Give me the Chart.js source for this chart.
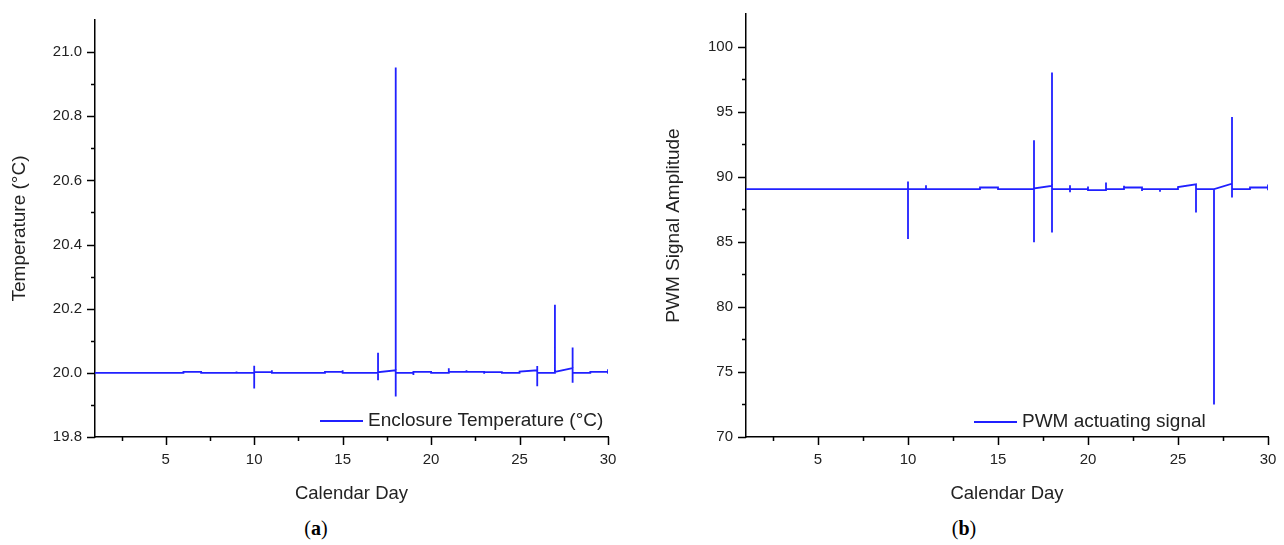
<!DOCTYPE html>
<html>
<head>
<meta charset="utf-8">
<script src="https://cdn.jsdelivr.net/npm/chart.js"></script>
<style>
  body { margin: 0; background: #fff; }
  #wrap { position: relative; width: 1284px; height: 545px; overflow: hidden; font-family: "Liberation Sans", Arial, sans-serif; }
  .panel { position: absolute; top: 0; height: 510px; }
  .legend { position: absolute; font-size: 19px; color: #222; white-space: nowrap; line-height: 24px; }
  .legend .swatch { display: inline-block; width: 43px; height: 2px; background: #2020ff; vertical-align: middle; margin-right: 5px; }
  .caption { position: absolute; top: 517px; font-family: "Liberation Serif", serif; font-size: 20px; color: #000; text-align: center; }
</style>
</head>
<body>
<div id="wrap">
  <div class="panel" style="left:0;width:640px"><canvas id="graficoTemp"></canvas></div>
  <div class="panel" style="left:640px;width:644px"><canvas id="graficoPwm"></canvas></div>
  <div class="legend" id="legendTemp" style="left:320px;top:408px"></div>
  <div class="legend" id="legendPwm" style="left:974px;top:409px"></div>
  <div class="caption" style="left:0;width:632px">(<b>a</b>)</div>
  <div class="caption" style="left:640px;width:648px">(<b>b</b>)</div>
</div>
<script>
// Dados (a): temperatura do gabinete
const tempDias = [1, 6, 6, 7, 7, 9, 9, 9, 10, 10, 10, 10, 11, 11, 11, 13, 13, 13, 14, 14, 15, 15, 15, 17, 17, 17, 17,
  18, 18, 18, 18, 19, 19, 19, 20, 20, 21, 21, 21, 22, 22, 22, 23, 23, 23, 24, 24, 24, 25, 25, 26, 26, 26, 26,
  27, 27, 27, 28, 28, 28, 28, 29, 29, 30, 30, 30];
const tempValores = [20.000, 20.000, 20.003, 20.003, 20.000, 20.000, 20.004, 20.000, 20.000, 20.022, 19.951, 20.002,
  20.002, 20.008, 20.000, 20.000, 20.003, 20.000, 20.000, 20.003, 20.003, 20.008, 20.000, 20.000, 20.063, 19.977, 20.002,
  20.008, 20.952, 19.926, 20.000, 20.000, 19.993, 20.003, 20.003, 20.000, 20.000, 20.014, 20.003, 20.003, 20.008, 20.003,
  20.003, 19.997, 20.002, 20.002, 19.997, 20.000, 20.000, 20.004, 20.008, 19.958, 20.021, 20.000,
  20.000, 20.212, 20.003, 20.015, 20.079, 19.969, 20.000, 20.000, 20.003, 20.003, 20.011, 19.997];

// Dados (b): sinal PWM
const pwmDias = [1, 10, 10, 10, 10, 11, 11, 11, 13, 13, 13, 14, 14, 15, 15, 17, 17, 17, 17, 18, 18, 18, 18,
  19, 19, 19, 19, 20, 20, 20, 21, 21, 21, 22, 22, 22, 23, 23, 23, 24, 24, 24, 25, 25, 26, 26, 26,
  27, 27, 27, 28, 28, 28, 28, 29, 29, 30, 30, 30];
const pwmValores = [89.05, 89.05, 89.63, 85.21, 89.05, 89.05, 89.35, 89.05, 89.05, 89.12, 89.05, 89.05, 89.17, 89.17, 89.05,
  89.05, 92.8, 84.96, 89.10, 89.30, 98.0, 85.72, 89.05,
  89.05, 89.35, 88.8, 89.05, 89.05, 89.25, 88.97, 88.97, 89.55, 89.05, 89.05, 89.30, 89.17, 89.17, 88.9, 89.05,
  89.05, 88.85, 89.05, 89.05, 89.2, 89.42, 87.25, 89.05,
  89.05, 72.5, 89.05, 89.47, 94.58, 88.4, 89.05, 89.05, 89.17, 89.17, 89.4, 88.95];

const corLinha = '#2020ff';
const fonte = '"Liberation Sans", Arial, sans-serif';
const corTexto = '#222';

function pontos(xs, ys) {
  return xs.map((x, i) => ({ x: x, y: ys[i] }));
}

function ehMultiplo(v, passo) {
  return Math.abs(v / passo - Math.round(v / passo)) < 1e-6;
}

// Desenha os ticks: maiores com 8px, menores com 4px
const ticksMenores = {
  id: 'ticksMenores',
  afterDraw(chart, args, opts) {
    const ctx = chart.ctx;
    const sx = chart.scales.x, sy = chart.scales.y;
    ctx.save();
    ctx.strokeStyle = '#000';
    ctx.lineWidth = 1.5;
    ctx.beginPath();
    sx.ticks.forEach(t => {
      const px = Math.round(sx.getPixelForValue(t.value)) + 0.5;
      const len = ehMultiplo(t.value, 5) ? 8 : 4;
      ctx.moveTo(px, sx.top);
      ctx.lineTo(px, sx.top + len);
    });
    sy.ticks.forEach(t => {
      const py = Math.round(sy.getPixelForValue(t.value)) + 0.5;
      const len = ehMultiplo(t.value, opts.passoMaior) ? 8 : 4;
      ctx.moveTo(sy.right, py);
      ctx.lineTo(sy.right - len, py);
    });
    ctx.stroke();
    ctx.restore();
  }
};

function criarGrafico(id, cfg) {
  const eixoX = {
    type: 'linear',
    min: 1, max: 30,
    afterBuildTicks: s => { s.ticks = s.ticks.filter(t => ehMultiplo(t.value, 2.5)); },
    afterFit: s => { s.height = 73; },
    ticks: {
      stepSize: 2.5, autoSkip: false, maxRotation: 0, padding: 6, color: corTexto,
      font: { family: fonte, size: 15 },
      callback: v => ehMultiplo(v, 5) ? String(v) : ''
    },
    grid: { drawOnChartArea: false, tickLength: 8, tickColor: 'transparent' },
    border: { color: '#000', width: 1.5 },
    title: { display: true, text: 'Calendar Day', color: corTexto, font: { family: fonte, size: 18.5 }, padding: { bottom: 5 } }
  };
  const eixoY = {
    min: cfg.yMin, max: cfg.yMax,
    afterBuildTicks: s => { s.ticks = s.ticks.filter(t => t.value < cfg.yMax - 1e-6); },
    afterFit: s => { s.width = cfg.larguraY; },
    ticks: {
      stepSize: cfg.passoMenor, autoSkip: false, padding: 5, color: corTexto,
      font: { family: fonte, size: 15 },
      callback: v => ehMultiplo(v, cfg.passoMaior) ? cfg.formato(v) : ''
    },
    grid: { drawOnChartArea: false, tickLength: 8, tickColor: 'transparent' },
    border: { color: '#000', width: 1.5 },
    title: { display: true, text: cfg.tituloY, color: corTexto, font: { family: fonte, size: 19 }, padding: { top: cfg.padTitulo } }
  };

  const grafico = new Chart(document.getElementById(id), {
    type: 'line',
    data: {
      datasets: [{
        label: cfg.rotulo,
        data: pontos(cfg.dias, cfg.valores),
        borderColor: corLinha,
        borderWidth: 1.8,
        pointRadius: 0,
        tension: 0
      }]
    },
    options: {
      responsive: true,
      maintainAspectRatio: false,
      animation: false,
      layout: { padding: cfg.padding },
      plugins: {
        legend: { display: false },
        tooltip: { enabled: false },
        ticksMenores: { passoMaior: cfg.passoMaior }
      },
      scales: { x: eixoX, y: eixoY }
    },
    plugins: [ticksMenores]
  });

  // Legenda em HTML dentro da área do gráfico
  document.getElementById(cfg.legenda).innerHTML =
    '<span class="swatch"></span>' + grafico.data.datasets[0].label;
  return grafico;
}

criarGrafico('graficoTemp', {
  dias: tempDias, valores: tempValores, rotulo: 'Enclosure Temperature (°C)', legenda: 'legendTemp',
  yMin: 19.8, yMax: 21.1, passoMenor: 0.1, passoMaior: 0.2, formato: v => v.toFixed(1),
  tituloY: 'Temperature (°C)', larguraY: 95, padTitulo: 8,
  padding: { top: 20, right: 32, bottom: 0, left: 0 }
});

criarGrafico('graficoPwm', {
  dias: pwmDias, valores: pwmValores, rotulo: 'PWM actuating signal', legenda: 'legendPwm',
  yMin: 70, yMax: 102.5, passoMenor: 2.5, passoMaior: 5, formato: v => String(v),
  tituloY: 'PWM Signal Amplitude', larguraY: 106, padTitulo: 22,
  padding: { top: 13, right: 16, bottom: 0, left: 0 }
});
</script>
</body>
</html>
